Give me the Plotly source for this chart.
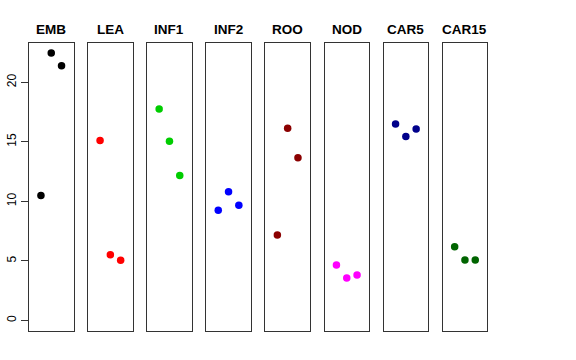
import plotly.graph_objects as go

tissues = ["EMB", "LEA", "INF1", "INF2", "ROO", "NOD", "CAR5", "CAR15"]
values = {
    "EMB": [10.5, 22.45, 21.4],
    "LEA": [15.11, 5.53, 5.06],
    "INF1": [17.75, 15.06, 12.17],
    "INF2": [9.26, 10.82, 9.68],
    "ROO": [7.18, 16.15, 13.66],
    "NOD": [4.66, 3.57, 3.82],
    "CAR5": [16.49, 15.45, 16.09],
    "CAR15": [6.2, 5.08, 5.08],
}
colors = ["#000000", "#FF0000", "#00CD00", "#0000FF", "#8B0000", "#FF00FF", "#00008B", "#006400"]
replicates = [1, 2, 3]
y_ticks = [0, 5, 10, 15, 20]

W, H = 576, 360
left0, step, pw = 29.0, 59.1, 44.5
top, bottom = 43.0, 331.0

fig = go.Figure()
for i, t in enumerate(tissues):
    n = "" if i == 0 else str(i + 1)
    x0 = left0 + step * i
    fig.add_trace(go.Scatter(
        x=replicates, y=values[t], mode="markers",
        marker=dict(color=colors[i], size=7.5, line=dict(width=0)),
        xaxis="x" + n, yaxis="y" + n, showlegend=False, hoverinfo="y",
    ))
    fig.update_layout(**{
        "xaxis" + n: dict(domain=[x0 / W, (x0 + pw) / W], range=[-0.16, 4.16],
                          showticklabels=False, ticks="", showgrid=False, zeroline=False,
                          showline=True, mirror=True, linecolor="#333333", linewidth=1,
                          anchor="y" + n, automargin=False),
        "yaxis" + n: dict(domain=[1 - bottom / H, 1 - top / H], range=[-0.88, 23.3],
                          showgrid=False, zeroline=False, automargin=False,
                          showline=True, mirror=True, linecolor="#333333", linewidth=1,
                          anchor="x" + n,
                          showticklabels=(i == 0), ticks="outside" if i == 0 else "",
                          tickvals=y_ticks, ticklen=7, tickcolor="#333333",
                          tickangle=-90,
                          tickfont=dict(family="Liberation Sans, Arial", size=12, color="#000000")),
    })
    fig.add_annotation(x=(x0 + pw / 2) / W, y=1 - 29 / H, xref="paper", yref="paper",
                       text="<b>" + t + "</b>", showarrow=False,
                       font=dict(family="Liberation Sans, Arial", size=13.5, color="#000000"),
                       xanchor="center", yanchor="middle")

fig.update_layout(width=W, height=H, margin=dict(l=0, r=0, t=0, b=0, autoexpand=False),
                  paper_bgcolor="white", plot_bgcolor="white")
fig.write_html("out.html", config={"displayModeBar": False},
               post_script="document.body.style.margin='0';")
